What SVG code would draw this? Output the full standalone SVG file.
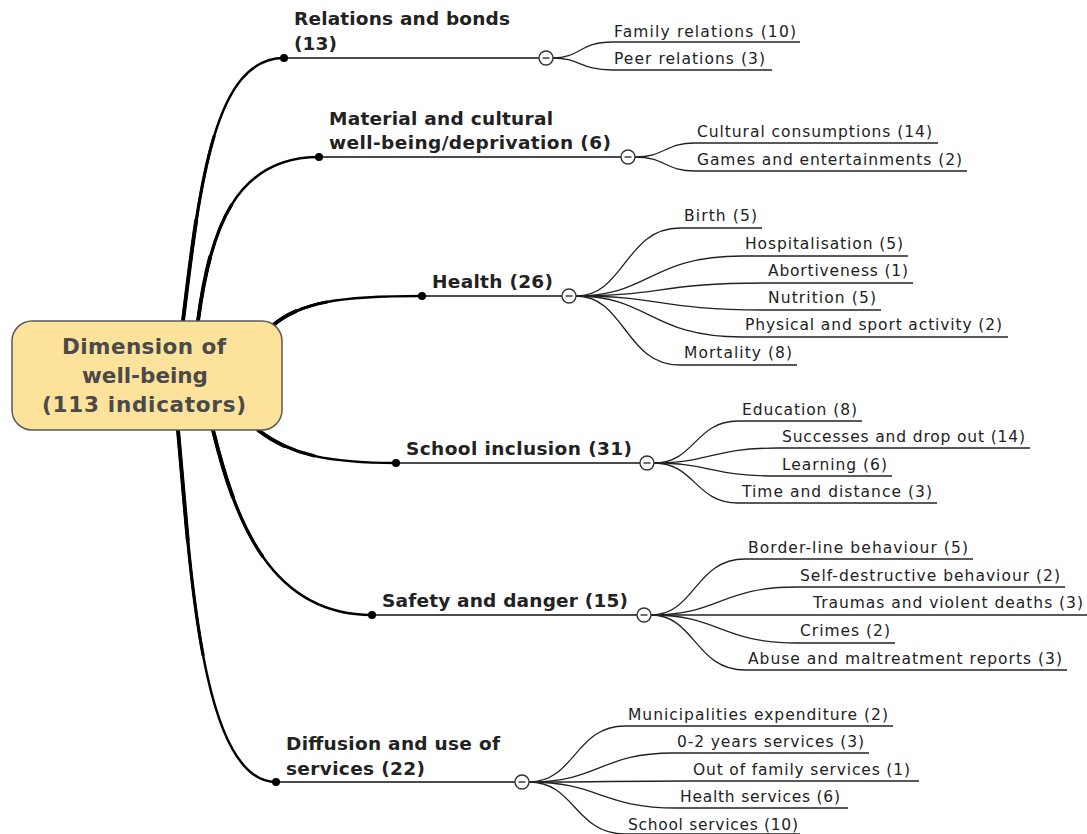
<svg xmlns="http://www.w3.org/2000/svg" width="1087" height="834" viewBox="0 0 1087 834">
<style>
.trunk{fill:none;stroke:#000;stroke-width:2.5;stroke-linecap:round}
.t2{fill:none;stroke:#000;stroke-width:3.2;stroke-linecap:round}
.t3{fill:none;stroke:#000;stroke-width:3.9;stroke-linecap:round}
.hline{fill:none;stroke:#111;stroke-width:1.6}
.sub{fill:none;stroke:#222;stroke-width:1.3}
.ul{fill:none;stroke:#222;stroke-width:1.6}
.dot{fill:#000}
.tgl{fill:#fff;stroke:#333;stroke-width:1.4}
.main{font-family:"DejaVu Sans",Verdana,sans-serif;font-weight:bold;font-size:18.5px;fill:#222}
.leaf{font-family:"DejaVu Sans",Verdana,sans-serif;font-size:15.5px;fill:#222}
.center{font-family:"DejaVu Sans",Verdana,sans-serif;font-weight:bold;font-size:21.5px;fill:#4a4a4a}
</style>
<defs>
<g id="toggle"><circle class="tgl" r="7"/><line x1="-3.5" y1="0" x2="3.5" y2="0" stroke="#333" stroke-width="1.4"/></g>
</defs>

<g id="connectors">
<path class="trunk" d="M183,321 C200,180 215,58 284,58"/>
<path class="t2" d="M183,321 C191.5,250.5 199.5,184.75 214,136.6"/>
<path class="t3" d="M183,321 C187.25,285.75 191.4,251.7 196.2,220.4"/>
<path class="trunk" d="M198,321 C210,230 235,157 319,157"/>
<path class="t2" d="M198,321 C204,275.5 213.25,234.5 231.5,204.9"/>
<path class="t3" d="M198,321 C201,298.25 204.8,276.6 210.1,257"/>
<path class="trunk" d="M272,326 C300,302 340,296 422,296"/>
<path class="t2" d="M272,326 C286,314 303,306.5 326.75,302"/>
<path class="t3" d="M272,326 C279,320 286.75,315.1 295.7,311.2"/>
<path class="trunk" d="M258,430 C290,455 330,463 396,463"/>
<path class="t2" d="M258,430 C274,442.5 292,450.75 314.25,455.9"/>
<path class="t3" d="M258,430 C266,436.25 274.5,441.4 283.8,445.7"/>
<path class="trunk" d="M213,430 C235,520 270,615 372,615"/>
<path class="t2" d="M213,430 C224,475 238.25,521.25 262.5,556.25"/>
<path class="t3" d="M213,430 C218.5,452.5 224.8,475.3 232.8,496.9"/>
<path class="trunk" d="M178,430 C190,560 200,782 276,782"/>
<path class="t2" d="M178,430 C184,495 189.5,583 203,654.75"/>
<path class="t3" d="M178,430 C181,462.5 183.9,500.75 187.7,539.85"/>

<line class="hline" x1="284" y1="58" x2="539" y2="58"/>
<line class="hline" x1="319" y1="157" x2="621" y2="157"/>
<line class="hline" x1="422" y1="296" x2="562" y2="296"/>
<line class="hline" x1="396" y1="463" x2="640" y2="463"/>
<line class="hline" x1="372" y1="615" x2="637" y2="615"/>
<line class="hline" x1="276" y1="782" x2="515" y2="782"/>

<path class="sub" d="M553,58 C580,58 580,42 612,42"/>
<path class="sub" d="M553,58 C580,58 580,70 612,70"/>
<path class="sub" d="M635,157 C665,157 665,143 695,143"/>
<path class="sub" d="M635,157 C665,157 665,171 695,171"/>
<path class="sub" d="M576,296 C625,296 625,228 680,228"/>
<path class="sub" d="M576,296 C650,296 650,256 742,256"/>
<path class="sub" d="M576,296 C660,296 660,283 765,283"/>
<path class="sub" d="M576,296 C660,296 660,310 765,310"/>
<path class="sub" d="M576,296 C650,296 650,337 742,337"/>
<path class="sub" d="M576,296 C625,296 625,365 680,365"/>
<path class="sub" d="M654,463 C695,463 695,421 738,421"/>
<path class="sub" d="M654,463 C710,463 710,448 778,448"/>
<path class="sub" d="M654,463 C710,463 710,476 778,476"/>
<path class="sub" d="M654,463 C695,463 695,503 738,503"/>
<path class="sub" d="M651,615 C695,615 695,559 745,559"/>
<path class="sub" d="M651,615 C720,615 720,587 797,587"/>
<path class="sub" d="M651,615 C730,615 730,615 810,615"/>
<path class="sub" d="M651,615 C720,615 720,643 797,643"/>
<path class="sub" d="M651,615 C695,615 695,670 745,670"/>
<path class="sub" d="M529,782 C575,782 575,726 625,726"/>
<path class="sub" d="M529,782 C600,782 600,753 673,753"/>
<path class="sub" d="M529,782 C610,782 610,781 689,781"/>
<path class="sub" d="M529,782 C600,782 600,808 677,808"/>
<path class="sub" d="M529,782 C575,782 575,834 625,834"/>
</g>

<g id="center-node">
<rect x="12" y="321" width="270" height="109" rx="20" ry="20" fill="#FCE29A" stroke="#5a5a5a" stroke-width="1.5"/>
<text class="center" x="62" y="354" textLength="164" lengthAdjust="spacing">Dimension of</text>
<text class="center" x="82" y="383" textLength="126" lengthAdjust="spacing">well-being</text>
<text class="center" x="42" y="412" textLength="204" lengthAdjust="spacing">(113 indicators)</text>
</g>

<g id="relations">
<circle class="dot" cx="284" cy="58" r="4"/>
<text class="main" x="294" y="25" textLength="216" lengthAdjust="spacing">Relations and bonds</text>
<text class="main" x="294" y="50" textLength="43" lengthAdjust="spacing">(13)</text>
<use href="#toggle" x="546" y="58"/>
</g>
<g id="family-relations"><text class="leaf" x="614" y="37" textLength="182" lengthAdjust="spacing">Family relations (10)</text><line class="ul" x1="612" y1="42" x2="800" y2="42"/></g>
<g id="peer-relations"><text class="leaf" x="614" y="64" textLength="151" lengthAdjust="spacing">Peer relations (3)</text><line class="ul" x1="612" y1="70" x2="772" y2="70"/></g>

<g id="material">
<circle class="dot" cx="319" cy="157" r="4"/>
<text class="main" x="329" y="125" textLength="224" lengthAdjust="spacing">Material and cultural</text>
<text class="main" x="329" y="149" textLength="282" lengthAdjust="spacing">well-being/deprivation (6)</text>
<use href="#toggle" x="628" y="157"/>
</g>
<g id="cultural"><text class="leaf" x="697" y="137" textLength="235" lengthAdjust="spacing">Cultural consumptions (14)</text><line class="ul" x1="695" y1="143" x2="938" y2="143"/></g>
<g id="games"><text class="leaf" x="697" y="165" textLength="265" lengthAdjust="spacing">Games and entertainments (2)</text><line class="ul" x1="695" y1="171" x2="967" y2="171"/></g>

<g id="health">
<circle class="dot" cx="422" cy="296" r="4"/>
<text class="main" x="432" y="288" textLength="121" lengthAdjust="spacing">Health (26)</text>
<use href="#toggle" x="569" y="296"/>
</g>
<g id="birth"><text class="leaf" x="684" y="221" textLength="73" lengthAdjust="spacing">Birth (5)</text><line class="ul" x1="680" y1="228" x2="762" y2="228"/></g>
<g id="hospitalisation"><text class="leaf" x="745" y="249" textLength="158" lengthAdjust="spacing">Hospitalisation (5)</text><line class="ul" x1="742" y1="256" x2="908" y2="256"/></g>
<g id="abortiveness"><text class="leaf" x="768" y="276" textLength="140" lengthAdjust="spacing">Abortiveness (1)</text><line class="ul" x1="765" y1="283" x2="913" y2="283"/></g>
<g id="nutrition"><text class="leaf" x="768" y="303" textLength="108" lengthAdjust="spacing">Nutrition (5)</text><line class="ul" x1="765" y1="310" x2="881" y2="310"/></g>
<g id="physical"><text class="leaf" x="745" y="330" textLength="257" lengthAdjust="spacing">Physical and sport activity (2)</text><line class="ul" x1="742" y1="337" x2="1008" y2="337"/></g>
<g id="mortality"><text class="leaf" x="684" y="358" textLength="108" lengthAdjust="spacing">Mortality (8)</text><line class="ul" x1="680" y1="365" x2="797" y2="365"/></g>

<g id="school">
<circle class="dot" cx="396" cy="463" r="4"/>
<text class="main" x="406" y="455" textLength="226" lengthAdjust="spacing">School inclusion (31)</text>
<use href="#toggle" x="647" y="463"/>
</g>
<g id="education"><text class="leaf" x="742" y="415" textLength="115" lengthAdjust="spacing">Education (8)</text><line class="ul" x1="738" y1="421" x2="862" y2="421"/></g>
<g id="successes"><text class="leaf" x="782" y="442" textLength="243" lengthAdjust="spacing">Successes and drop out (14)</text><line class="ul" x1="778" y1="448" x2="1030" y2="448"/></g>
<g id="learning"><text class="leaf" x="782" y="470" textLength="105" lengthAdjust="spacing">Learning (6)</text><line class="ul" x1="778" y1="476" x2="892" y2="476"/></g>
<g id="time"><text class="leaf" x="742" y="497" textLength="190" lengthAdjust="spacing">Time and distance (3)</text><line class="ul" x1="738" y1="503" x2="937" y2="503"/></g>

<g id="safety">
<circle class="dot" cx="372" cy="615" r="4"/>
<text class="main" x="382" y="607" textLength="246" lengthAdjust="spacing">Safety and danger (15)</text>
<use href="#toggle" x="644" y="615"/>
</g>
<g id="borderline"><text class="leaf" x="748" y="553" textLength="220" lengthAdjust="spacing">Border-line behaviour (5)</text><line class="ul" x1="745" y1="559" x2="973" y2="559"/></g>
<g id="selfdestructive"><text class="leaf" x="800" y="581" textLength="260" lengthAdjust="spacing">Self-destructive behaviour (2)</text><line class="ul" x1="797" y1="587" x2="1065" y2="587"/></g>
<g id="traumas"><text class="leaf" x="813" y="608" textLength="270" lengthAdjust="spacing">Traumas and violent deaths (3)</text><line class="ul" x1="810" y1="615" x2="1087" y2="615"/></g>
<g id="crimes"><text class="leaf" x="800" y="636" textLength="90" lengthAdjust="spacing">Crimes (2)</text><line class="ul" x1="797" y1="643" x2="895" y2="643"/></g>
<g id="abuse"><text class="leaf" x="748" y="664" textLength="314" lengthAdjust="spacing">Abuse and maltreatment reports (3)</text><line class="ul" x1="745" y1="670" x2="1067" y2="670"/></g>

<g id="diffusion">
<circle class="dot" cx="276" cy="782" r="4"/>
<text class="main" x="286" y="750" textLength="214" lengthAdjust="spacing">Diffusion and use of</text>
<text class="main" x="286" y="775" textLength="139" lengthAdjust="spacing">services (22)</text>
<use href="#toggle" x="522" y="782"/>
</g>
<g id="municipalities"><text class="leaf" x="628" y="720" textLength="260" lengthAdjust="spacing">Municipalities expenditure (2)</text><line class="ul" x1="625" y1="726" x2="893" y2="726"/></g>
<g id="zero-two"><text class="leaf" x="677" y="747" textLength="187" lengthAdjust="spacing">0-2 years services (3)</text><line class="ul" x1="673" y1="753" x2="869" y2="753"/></g>
<g id="outfamily"><text class="leaf" x="693" y="775" textLength="217" lengthAdjust="spacing">Out of family services (1)</text><line class="ul" x1="689" y1="781" x2="919" y2="781"/></g>
<g id="healthservices"><text class="leaf" x="680" y="802" textLength="160" lengthAdjust="spacing">Health services (6)</text><line class="ul" x1="677" y1="808" x2="848" y2="808"/></g>
<g id="schoolservices"><text class="leaf" x="628" y="830" textLength="170" lengthAdjust="spacing">School services (10)</text><line class="ul" x1="625" y1="834" x2="800" y2="834"/></g>
</svg>
